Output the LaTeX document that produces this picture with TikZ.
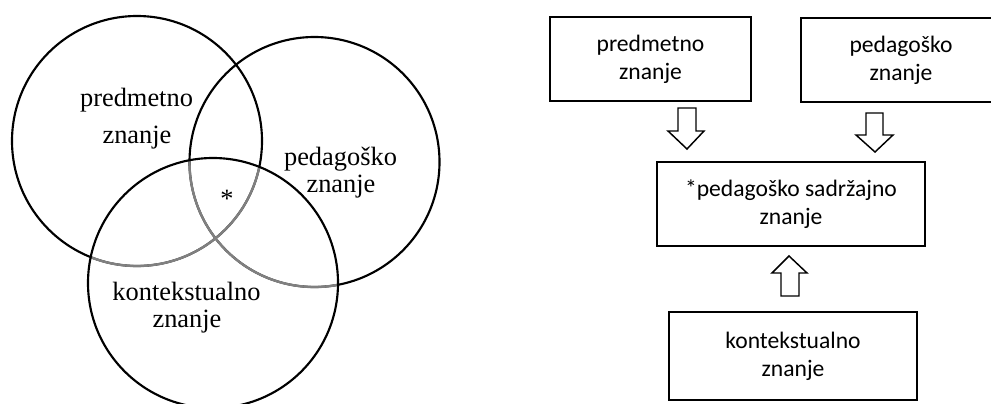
\documentclass[tikz,border=0pt]{standalone}
\usepackage{fontspec}
\setmainfont{Liberation Serif}
\newfontfamily\calfont{Carlito}
\begin{document}
\begin{tikzpicture}[x=0.75pt,y=-0.75pt,
  ring/.style={line width=1.6pt},
  serlbl/.style={anchor=base,inner sep=0pt,font=\fontsize{19.8}{24}\selectfont},
  kbox/.style={draw,line width=1.5pt,inner sep=0pt,align=center,font=\calfont\fontsize{17.7}{21}\selectfont},
  barrow/.style={draw,line width=1.1pt,line join=miter,fill=white}]
\useasboundingbox (0,0) rectangle (991,403);
\begin{scope}
\clip (0,0) rectangle (991,403);
% circles
\coordinate (c1) at (137,141);
\coordinate (c2) at (314.5,162);
\coordinate (c3) at (213,283);
\draw[ring] (c1) circle [radius=93.75pt];
\draw[ring] (c2) circle [radius=93.75pt];
\begin{scope}
  \clip (c3) circle [radius=93.75pt];
  \draw[ring,color=black!50,line width=1.8pt] (c1) circle [radius=93.75pt];
  \draw[ring,color=black!50,line width=1.8pt] (c2) circle [radius=93.75pt];
\end{scope}
\draw[ring] (c3) circle [radius=93.75pt];
% circle labels
\node[serlbl] (pm1) at (136.5,106.7) {predmetno};
\node[serlbl] (pm2) at (137,143.3) {znanje};
\node[serlbl] (pg1) at (340.5,165.7) {pedagoško};
\node[serlbl] (pg2) at (341,192.7) {znanje};
\node[serlbl] (ks1) at (186.5,300) {kontekstualno};
\node[serlbl] (ks2) at (187,327.7) {znanje};
\node[serlbl] (star) at (227,207) {*};
% boxes
\node[kbox,minimum width=150.75pt,minimum height=63pt] (b1) at (650.5,59) {predmetno\\znanje};
\node[kbox,minimum width=150pt,minimum height=63pt] (b2) at (901,60) {pedagoško\\znanje};
\node[kbox,minimum width=201pt,minimum height=63pt] (b3) at (791,204) {*pedagoško sadržajno\\znanje};
\node[kbox,minimum width=186pt,minimum height=66pt] (b4) at (793,356) {kontekstualno\\znanje};
% block arrows
\draw[barrow] (678,108) -- (696,108) -- (696,131) -- (704,131) -- (687,149) -- (668,131) -- (678,131) -- cycle;
\draw[barrow] (866,113) -- (883,113) -- (883,135) -- (893,135) -- (875,152) -- (856,135) -- (866,135) -- cycle;
\draw[barrow] (781,296) -- (799,296) -- (799,273) -- (807,273) -- (789,256) -- (772,273) -- (781,273) -- cycle;
\end{scope}
\end{tikzpicture}
\end{document}
